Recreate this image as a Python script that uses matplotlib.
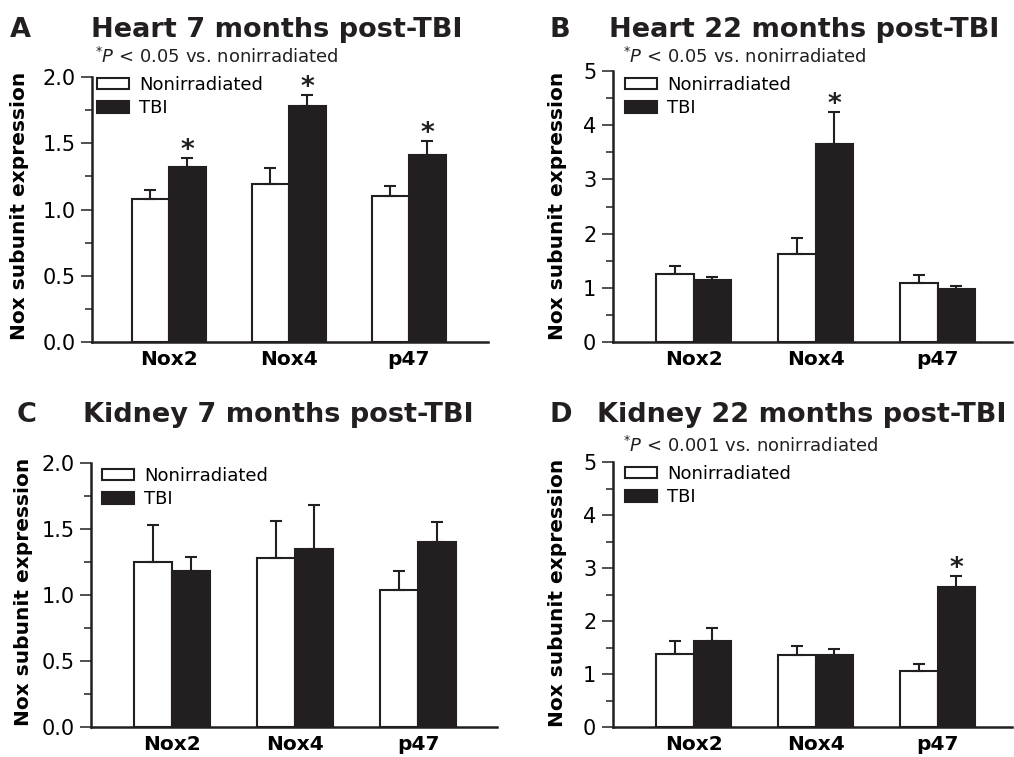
import numpy as np
import matplotlib
matplotlib.use("Agg")
import matplotlib.pyplot as plt
from matplotlib.ticker import MultipleLocator, FormatStrFormatter

# data (mean and upper error)
genes = ["Nox2", "Nox4", "p47"]

heart7_nonirr = [1.08, 1.19, 1.10]
heart7_nonirr_err = [0.065, 0.12, 0.08]
heart7_tbi = [1.32, 1.78, 1.41]
heart7_tbi_err = [0.07, 0.085, 0.105]
heart7_sig = [True, True, True]

heart22_nonirr = [1.26, 1.63, 1.09]
heart22_nonirr_err = [0.15, 0.28, 0.14]
heart22_tbi = [1.15, 3.66, 0.98]
heart22_tbi_err = [0.05, 0.58, 0.06]
heart22_sig = [False, True, False]

kidney7_nonirr = [1.25, 1.28, 1.04]
kidney7_nonirr_err = [0.28, 0.28, 0.14]
kidney7_tbi = [1.18, 1.35, 1.40]
kidney7_tbi_err = [0.11, 0.33, 0.15]
kidney7_sig = [False, False, False]

kidney22_nonirr = [1.38, 1.35, 1.06]
kidney22_nonirr_err = [0.24, 0.18, 0.13]
kidney22_tbi = [1.62, 1.35, 2.65]
kidney22_tbi_err = [0.25, 0.13, 0.19]
kidney22_sig = [False, False, True]

BLACK = "#231f20"
W, H = 1014, 757

plt.rcParams["font.family"] = ["DejaVu Sans"]
plt.rcParams["mathtext.fontset"] = "dejavusans"

fig = plt.figure(figsize=(W / 100, H / 100), dpi=100)


def px_rect(l, t, r, b):
    # pixel box (from top-left) -> figure fraction
    return [l / W, 1 - b / H, (r - l) / W, (b - t) / H]


def fx(x):
    return x / W


def fy(y):
    return 1 - y / H


def draw_panel(rect, xlim, ylim, major, minor, fmt, nonirr, nonirr_err, tbi, tbi_err, sig,
               legend_xy, ylabel_xy):
    ax = fig.add_axes(px_rect(*rect))
    x = np.arange(len(genes))
    w = 0.31
    ax.bar(x - w / 2, nonirr, w, color="white", edgecolor=BLACK, linewidth=1.5, label="Nonirradiated")
    ax.bar(x + w / 2, tbi, w, color=BLACK, edgecolor=BLACK, linewidth=1.5, label="TBI")
    # one sided error bars
    ax.errorbar(x - w / 2, nonirr, yerr=[np.zeros(len(x)), nonirr_err], fmt="none",
                ecolor=BLACK, elinewidth=1.5, capsize=4, capthick=1.5)
    ax.errorbar(x + w / 2, tbi, yerr=[np.zeros(len(x)), tbi_err], fmt="none",
                ecolor=BLACK, elinewidth=1.5, capsize=4, capthick=1.5)
    for i in range(len(x)):
        if sig[i]:
            ax.annotate("*", xy=(x[i] + w / 2, tbi[i] + tbi_err[i]), xytext=(0, 0),
                        textcoords="offset points", ha="center", va="baseline",
                        fontsize=19, fontweight="bold", color=BLACK, annotation_clip=False)
    ax.set_xlim(*xlim)
    ax.set_ylim(*ylim)
    ax.yaxis.set_major_locator(MultipleLocator(major))
    ax.yaxis.set_minor_locator(MultipleLocator(minor))
    ax.yaxis.set_major_formatter(FormatStrFormatter(fmt))
    ax.set_xticks(x)
    ax.set_xticklabels(genes, fontsize=14.5, fontweight="bold")
    ax.tick_params(axis="x", length=0, pad=6)
    ax.tick_params(axis="y", which="major", length=8, width=1.1, labelsize=15, pad=4, color=BLACK)
    ax.tick_params(axis="y", which="minor", length=5, width=1.1, color=BLACK)
    for s in ["top", "right"]:
        ax.spines[s].set_visible(False)
    for s in ["left", "bottom"]:
        ax.spines[s].set_linewidth(1.8)
        ax.spines[s].set_color(BLACK)
    ax.set_ylabel("Nox subunit expression", fontsize=14.5, fontweight="bold")
    ax.yaxis.set_label_coords(fx(ylabel_xy[0]), fy(ylabel_xy[1]), transform=fig.transFigure)
    ax.legend(loc="upper left", bbox_to_anchor=(fx(legend_xy[0]), fy(legend_xy[1])),
              bbox_transform=fig.transFigure, frameon=False, fontsize=13, borderpad=0,
              borderaxespad=0, handlelength=1.78, handleheight=0.61, handletextpad=0.55,
              labelspacing=0.3)
    return ax


# A: heart 7 months
draw_panel((92, 77, 488, 342), (-0.64, 2.66), (0, 2.0), 0.5, 0.25, "%.1f",
           heart7_nonirr, heart7_nonirr_err, heart7_tbi, heart7_tbi_err, heart7_sig,
           (97, 76), (29, 206))
# B: heart 22 months
draw_panel((613, 71, 1012, 342), (-0.66, 2.61), (0, 5), 1, 0.5, "%d",
           heart22_nonirr, heart22_nonirr_err, heart22_tbi, heart22_tbi_err, heart22_sig,
           (625, 76), (567, 206))
# C: kidney 7 months
draw_panel((91, 463, 497, 727), (-0.66, 2.64), (0, 2.0), 0.5, 0.25, "%.1f",
           kidney7_nonirr, kidney7_nonirr_err, kidney7_tbi, kidney7_tbi_err, kidney7_sig,
           (102, 467), (33, 592))
# D: kidney 22 months
draw_panel((613, 462, 1012, 727), (-0.66, 2.61), (0, 5), 1, 0.5, "%d",
           kidney22_nonirr, kidney22_nonirr_err, kidney22_tbi, kidney22_tbi_err, kidney22_sig,
           (625, 465), (567, 593))

# panel letters and titles
titles = [("A", 10, 91, 37, "Heart 7 months post-TBI"),
          ("B", 550, 609, 37, "Heart 22 months post-TBI"),
          ("C", 17, 83, 422, "Kidney 7 months post-TBI"),
          ("D", 550, 597, 422, "Kidney 22 months post-TBI")]
for letter, lx, tx, by, title in titles:
    fig.text(fx(lx), fy(by), letter, fontsize=19.5, fontweight="bold", va="baseline", color=BLACK)
    fig.text(fx(tx), fy(by), title, fontsize=19.5, fontweight="bold", va="baseline", color=BLACK)

# significance notes
notes = [(95, 63, "0.05"), (623, 63, "0.05"), (623, 452, "0.001")]
for nx, ny, p in notes:
    fig.text(fx(nx), fy(ny), r"$^{*}\mathit{P}$ < " + p + " vs. nonirradiated",
             fontsize=13, va="baseline", color=BLACK)

fig.savefig("out.png", dpi=100)
